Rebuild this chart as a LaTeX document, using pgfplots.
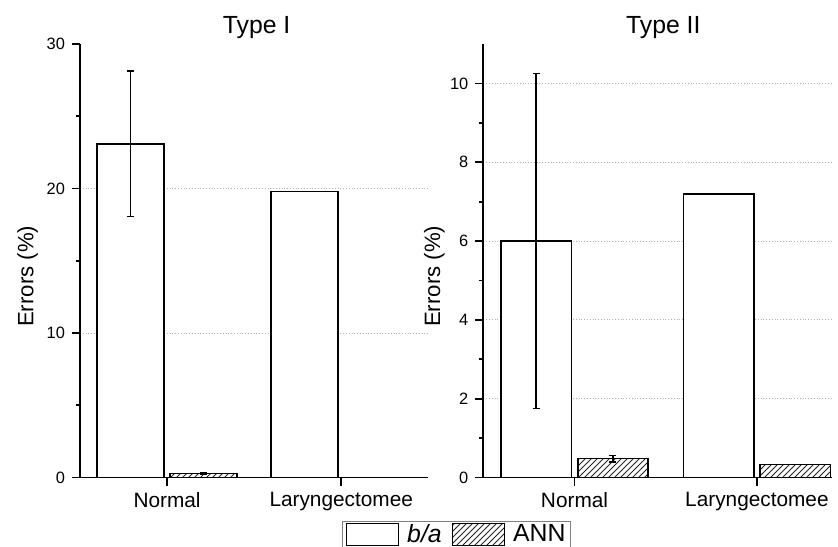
\documentclass[border=0pt]{standalone}
\usepackage{fontspec}
\setmainfont{Liberation Sans}
\usepackage{pgfplots}
\pgfplotsset{compat=1.18}
\usetikzlibrary{patterns}

\pgfplotsset{
  panel/.style={
    scale only axis,
    width=174.15pt, height=216.75pt,
    anchor=south west,
    axis lines*=left,
    axis line style={line width=0.9pt},
    tick align=outside,
    major tick length=4pt,
    minor tick length=2.2pt,
    tick style={line width=0.9pt, black},
    xtick={0,1},
    xticklabels={Normal,Laryngectomee},
    x tick label style={font=\fontsize{10.4}{12}\selectfont},
    y tick label style={font=\fontsize{8.2}{10}\selectfont},
    /pgf/number format/assume math mode=true,
    ymajorgrids,
    grid style={densely dotted, gray!60, line width=0.5pt},
    xmin=-0.5, ymin=0,
    bar width=0.385,
    ylabel={Errors (\%)},
    ylabel style={font=\fontsize{11.1}{13}\selectfont, anchor=base},
    every axis title/.style={anchor=base, font=\fontsize{12.4}{15}\selectfont},
    error bars/error bar style={line width=0.8pt},
    error bars/error mark options={rotate=90, mark size=1.7pt, line width=0.8pt},
  },
  % bars sit at category -/+ 0.21, so the error bars sit on them too
  bbar/.style={ybar, bar shift=0pt, fill=white, draw=black, line width=0.8pt,
    error bars/.cd, y dir=both, y explicit, /pgfplots/.cd,
    legend image code/.code={\draw[fill=white, draw=black, line width=0.7pt] (0pt,-5.5pt) rectangle (26pt,5.5pt);}},
  abar/.style={ybar, bar shift=0pt, draw=black, line width=0.8pt,
    pattern=north east lines, pattern color=black!85,
    error bars/.cd, y dir=both, y explicit, /pgfplots/.cd,
    legend image code/.code={\draw[pattern=north east lines, pattern color=black!85, draw=black, line width=0.7pt] (0pt,-5.5pt) rectangle (26pt,5.5pt);}},
}

\begin{document}
\begin{tikzpicture}
\useasboundingbox (0,0) rectangle (419pt,273pt);
\clip (0,0) rectangle (419pt,273pt);

% Type I
\begin{axis}[panel,
  at={(40pt,34.25pt)},
  xmax=1.5, ymax=30,
  ytick={0,10,20}, minor ytick={5,15,25},
  extra y ticks={30}, extra y tick style={grid=none},
  title={Type I},
  title style={at={(axis description cs:0.507,1.0247)}},
  ylabel style={at={(axis description cs:-0.134,0.464)}},
]
\addplot[bbar] coordinates {(-0.21,23.1) +- (0,5.03) (0.79,19.8) +- (0,0)};
\addplot[abar] coordinates {(0.21,0.28) +- (0,0.07) (1.21,0) +- (0,0)};
\end{axis}

% Type II
\begin{axis}[panel,
  at={(241.65pt,34.25pt)},
  width=174.2pt,
  xmax=1.41, ymax=11,
  ytick={0,2,...,10}, minor y tick num=1,
  title={Type II},
  title style={at={(axis description cs:0.5167,1.0247)}},
  ylabel style={at={(axis description cs:-0.1243,0.464)}},
  legend columns=2,
  legend style={at={(axis description cs:-0.4047,-0.0997)}, anchor=north west,
    draw=gray, line width=0.5pt, font=\fontsize{12.4}{15}\selectfont,
    inner xsep=1.5pt, inner ysep=0.5pt, nodes={inner sep=1pt},
    /tikz/every odd column/.append style={column sep=3pt},
    /tikz/every even column/.append style={column sep=4pt}},
]
\addplot[bbar] coordinates {(-0.21,6.0) +- (0,4.25) (0.79,7.2) +- (0,0)};
\addlegendentry{\textit{b/a}}
\addplot[abar] coordinates {(0.21,0.48) +- (0,0.08) (1.21,0.33) +- (0,0)};
\addlegendentry{ANN}
\end{axis}
\end{tikzpicture}
\end{document}
